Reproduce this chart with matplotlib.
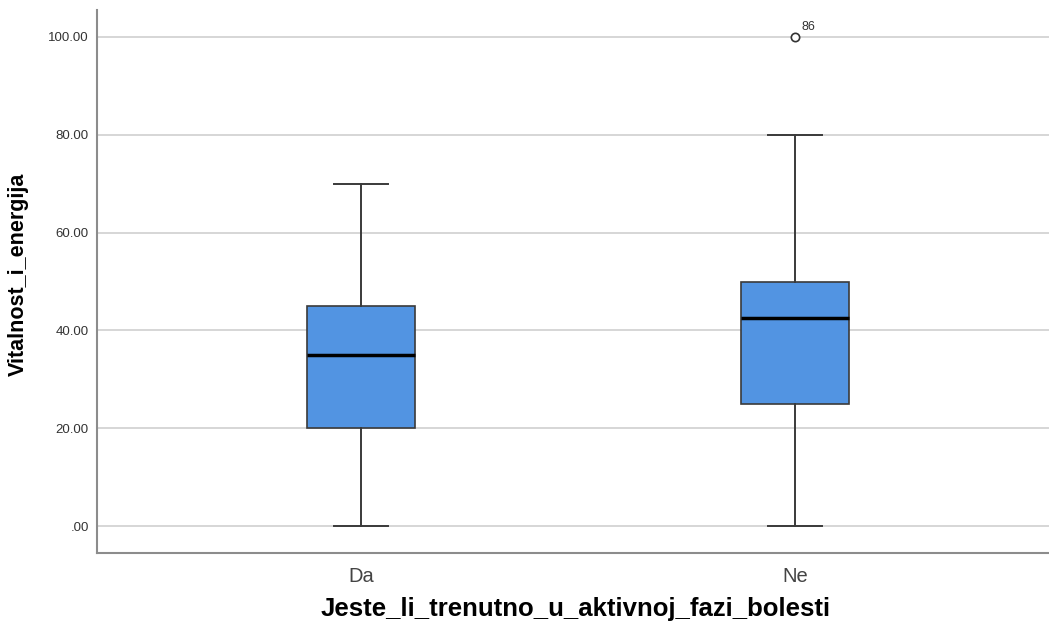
import matplotlib
matplotlib.use("Agg")
import matplotlib.pyplot as plt
from matplotlib.ticker import FixedLocator, FuncFormatter

categories = ["Da", "Ne"]
whislo = [0.0, 0.0]
q1 = [20.0, 25.0]
med = [35.0, 42.5]
q3 = [45.0, 50.0]
whishi = [70.0, 80.0]
fliers = [[], [100.0]]
flier_labels = [[], ["86"]]
yticks = [0, 20, 40, 60, 80, 100]

plt.rcParams['font.family'] = ['Liberation Sans', 'DejaVu Sans']

fig = plt.figure(figsize=(10.49, 6.26), dpi=100)
ax = fig.add_axes([0.0925, 0.1166, 0.9075, 0.8674])

stats = []
for i, c in enumerate(categories):
    stats.append(dict(label=c, whislo=whislo[i], q1=q1[i], med=med[i],
                      q3=q3[i], whishi=whishi[i], fliers=fliers[i]))

ax.bxp(stats, positions=range(len(categories)), widths=0.249, patch_artist=True,
       boxprops=dict(facecolor="#5294e2", edgecolor="#3a3a3a", linewidth=1.2),
       medianprops=dict(color="black", linewidth=2.5),
       whiskerprops=dict(color="#3a3a3a", linewidth=1.4),
       capprops=dict(color="#3a3a3a", linewidth=1.4),
       capwidths=0.125,
       flierprops=dict(marker="o", markerfacecolor="white", markeredgecolor="#333333",
                       markersize=6, markeredgewidth=1.2, linestyle="none"),
       zorder=3)

for i, (fl, lb) in enumerate(zip(fliers, flier_labels)):
    for v, t in zip(fl, lb):
        ax.annotate(t, (i, v), xytext=(5, 5), textcoords="offset points",
                    fontsize=9, color="#333333")

ax.set_xlim(-0.608, 1.585)
ax.set_ylim(-5.5, 105.5)
ax.yaxis.set_major_locator(FixedLocator(yticks))
ax.yaxis.set_major_formatter(FuncFormatter(lambda v, p: ".00" if v == 0 else f"{v:.2f}"))
ax.grid(axis="y", color="#d0d0d0", linewidth=1.2, zorder=0)
ax.set_axisbelow(True)

for s in ["top", "right"]:
    ax.spines[s].set_visible(False)
for s in ["left", "bottom"]:
    ax.spines[s].set_color("#8c8c8c")
    ax.spines[s].set_linewidth(1.5)

ax.tick_params(axis="y", length=0, labelsize=9.5, labelcolor="#333333", pad=6)
ax.tick_params(axis="x", length=0, labelsize=14.5, labelcolor="#444444", pad=10)

ax.set_ylabel("Vitalnost_i_energija", fontsize=15.5, fontweight="bold")
ax.set_xlabel("Jeste_li_trenutno_u_aktivnoj_fazi_bolesti", fontsize=18.5,
              fontweight="bold")
ax.yaxis.label.set_va("center")
ax.xaxis.label.set_va("center")
ax.yaxis.set_label_coords(-0.083, 0.514)
ax.xaxis.set_label_coords(0.503, -0.103)

fig.savefig("out.png", dpi=100, facecolor="white")
